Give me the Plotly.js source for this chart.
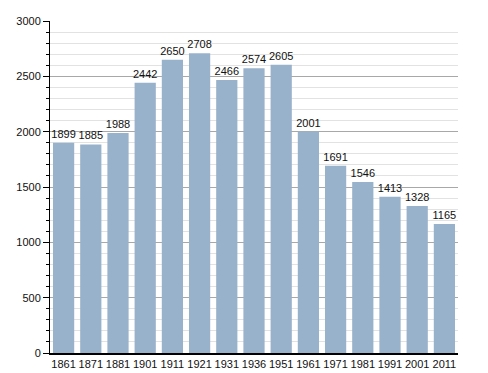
<!DOCTYPE html>
<html><head><meta charset="utf-8">
<script src="https://cdn.plot.ly/plotly-3.0.1.min.js"></script>
<style>body{margin:0;padding:0;background:#fff}#c{width:488px;height:373px}</style>
</head><body><div id="c"></div>
<script>
const years = ['1861','1871','1881','1901','1911','1921','1931','1936','1951','1961','1971','1981','1991','2001','2011'];
const population = [1899,1885,1988,2442,2650,2708,2466,2574,2605,2001,1691,1546,1413,1328,1165];
const yTicks = [0,500,1000,1500,2000,2500,3000];

Plotly.newPlot('c', [{
  type: 'bar',
  x: years,
  y: population,
  text: population.map(String),
  textposition: 'outside',
  constraintext: 'none',
  cliponaxis: false,
  textfont: {family: 'Liberation Sans, Arial, sans-serif', size: 11, color: '#111'},
  marker: {color: '#98b2cc'},
  hoverinfo: 'none'
}], {
  width: 488, height: 373,
  margin: {l: 50, r: 30, t: 21, b: 20},
  paper_bgcolor: '#fff', plot_bgcolor: '#fff',
  bargap: 0.22,
  showlegend: false,
  font: {family: 'Liberation Sans, Arial, sans-serif', size: 11, color: '#111'},
  xaxis: {
    type: 'category',
    showline: true, linecolor: '#000', linewidth: 1.5,
    ticks: '', showgrid: false,
    tickfont: {size: 11},
    automargin: false
  },
  yaxis: {
    range: [0, 3000],
    tickvals: yTicks,
    showline: true, linecolor: '#000', linewidth: 1,
    ticks: 'outside', ticklen: 6, tickcolor: '#000',
    showgrid: true, gridcolor: '#a8a8a8', gridwidth: 1,
    zeroline: false,
    tickfont: {size: 11},
    minor: {dtick: 100, showgrid: true, gridcolor: '#e2e2e2', ticks: 'outside', ticklen: 3, tickcolor: '#000'},
    automargin: false
  }
}, {displayModeBar: false, staticPlot: true});
</script></body></html>
